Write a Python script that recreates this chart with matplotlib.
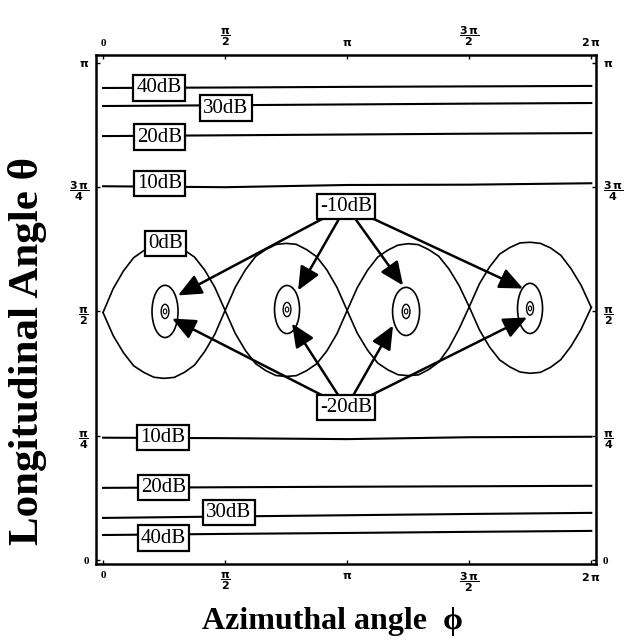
import numpy as np
import matplotlib
matplotlib.use('Agg')
import matplotlib.pyplot as plt
from matplotlib.patches import Ellipse

plt.rcParams['font.family'] = ['Liberation Serif', 'DejaVu Serif']
plt.rcParams['mathtext.fontset'] = 'custom'
plt.rcParams['mathtext.rm'] = 'DejaVu Sans:bold'
plt.rcParams['mathtext.it'] = 'DejaVu Sans:bold'
plt.rcParams['mathtext.bf'] = 'DejaVu Sans:bold'
plt.rcParams['mathtext.default'] = 'bf'

# 0 dB contour: upper and lower envelope sampled every pi/24 in phi
phi_0db = np.linspace(0, 2 * np.pi, 49)
theta_0db_upper = [1.564, 1.715, 1.826, 1.910, 1.955, 1.988, 1.995, 1.990, 1.958, 1.914, 1.832, 1.722, 1.577,
                   1.724, 1.834, 1.918, 1.962, 1.994, 2.001, 1.995, 1.962, 1.917, 1.834, 1.723, 1.577,
                   1.722, 1.831, 1.914, 1.958, 1.990, 1.999, 1.993, 1.962, 1.920, 1.840, 1.735, 1.600,
                   1.745, 1.852, 1.934, 1.975, 2.004, 2.008, 2.001, 1.972, 1.926, 1.842, 1.736, 1.596]
theta_0db_lower = [1.564, 1.418, 1.311, 1.228, 1.186, 1.155, 1.148, 1.154, 1.186, 1.232, 1.318, 1.428, 1.577,
                   1.432, 1.324, 1.241, 1.197, 1.166, 1.160, 1.165, 1.196, 1.240, 1.321, 1.430, 1.577,
                   1.433, 1.327, 1.245, 1.202, 1.171, 1.165, 1.170, 1.203, 1.250, 1.340, 1.460, 1.600,
                   1.455, 1.346, 1.264, 1.220, 1.188, 1.180, 1.186, 1.218, 1.266, 1.350, 1.458, 1.596]

# positive level contours, nearly flat in phi
phi_levels = [0, np.pi / 2, np.pi, 3 * np.pi / 2, 2 * np.pi]
db40_top = [2.983, 2.986, 2.990, 2.993, 2.996]
db30_top = [2.869, 2.874, 2.879, 2.884, 2.888]
db20_top = [2.679, 2.684, 2.689, 2.694, 2.698]
db10_top = [2.362, 2.356, 2.370, 2.372, 2.381]
db10_bot = [0.773, 0.770, 0.764, 0.776, 0.779]
db20_bot = [0.456, 0.460, 0.463, 0.466, 0.469]
db30_bot = [0.266, 0.275, 0.283, 0.291, 0.298]
db40_bot = [0.158, 0.165, 0.171, 0.178, 0.184]

# nulls: centres of the -10 dB / -20 dB contours
null_phi = [0.798, 2.368, 3.900, 5.495]
null_theta = [1.571, 1.583, 1.571, 1.590]
m10_width = [0.335, 0.322, 0.348, 0.322]
m10_height = [0.330, 0.304, 0.304, 0.317]
m20_width = [0.10, 0.10, 0.10, 0.09]
m20_height = [0.09, 0.09, 0.09, 0.085]

# arrow targets for the -10 dB and -20 dB labels
m10_tips = [(0.965, 1.672), (2.510, 1.704), (3.861, 1.735), (5.405, 1.716)]
m20_tips = [(0.888, 1.526), (2.432, 1.495), (3.732, 1.482), (5.457, 1.533)]

fig = plt.figure(figsize=(6.33, 6.43), dpi=100)
ax = fig.add_axes([0.1517, 0.1229, 0.790, 0.7916])

ax.plot(phi_0db, theta_0db_upper, color='black', lw=1.2)
ax.plot(phi_0db, theta_0db_lower, color='black', lw=1.2)

for th in [db40_top, db30_top, db20_top, db10_top, db10_bot, db20_bot, db30_bot, db40_bot]:
    ax.plot(phi_levels, th, color='black', lw=1.5)

for p, t, w, h, w2, h2 in zip(null_phi, null_theta, m10_width, m10_height, m20_width, m20_height):
    ax.add_patch(Ellipse((p, t), w, h, fill=False, color='black', lw=1.2))
    ax.add_patch(Ellipse((p, t), w2, h2, fill=False, color='black', lw=1.0))
    ax.add_patch(Ellipse((p, t), w2 * 0.45, h2 * 0.35, fill=False, color='black', lw=0.8))

box = dict(boxstyle='square,pad=0.15', fc='white', ec='black', lw=1.6)
labels = [('40dB', 0.72, 2.983), ('30dB', 1.58, 2.856), ('20dB', 0.73, 2.673),
          ('10dB', 0.73, 2.381), ('0dB', 0.81, 2.001),
          ('10dB', 0.77, 0.773), ('20dB', 0.78, 0.456), ('30dB', 1.62, 0.298),
          ('40dB', 0.78, 0.139)]
for txt, x, y in labels:
    ax.text(x, y, txt, fontsize=15, ha='center', va='center', bbox=box, zorder=5)

m10_pos = (3.13, 2.236)
m20_pos = (3.13, 0.963)
ax.text(*m10_pos, '-10dB', fontsize=15, ha='center', va='center', bbox=box, zorder=5)
ax.text(*m20_pos, '-20dB', fontsize=15, ha='center', va='center', bbox=box, zorder=5)
arrow = dict(arrowstyle='-|>,head_length=0.95,head_width=0.42', color='black', lw=1.8,
             shrinkA=0, shrinkB=0, mutation_scale=15)
for tip in m10_tips:
    ax.annotate('', xy=tip, xytext=m10_pos, arrowprops=arrow, zorder=3)
for tip in m20_tips:
    ax.annotate('', xy=tip, xytext=m20_pos, arrowprops=arrow, zorder=3)

ax.set_xlim(-0.09, 2 * np.pi + 0.062)
ax.set_ylim(-0.025, np.pi + 0.05)
ax.set_xticks([0, np.pi / 2, np.pi, 3 * np.pi / 2, 2 * np.pi])
ax.set_xticklabels(['0', r'$\dfrac{\pi}{2}$', r'$\pi$', r'$\dfrac{3\,\pi}{2}$', r'$2\,\pi$'])
ax.set_yticks([0, np.pi / 4, np.pi / 2, 3 * np.pi / 4, np.pi])
ax.set_yticklabels(['0', r'$\dfrac{\pi}{4}$', r'$\dfrac{\pi}{2}$', r'$\dfrac{3\,\pi}{4}$', r'$\pi$'])
ax.tick_params(direction='in', length=3, width=1, labelsize=8, pad=5,
               top=True, right=True, labeltop=True, labelright=True)
for lab in ax.get_xticklabels() + ax.get_yticklabels():
    lab.set_fontweight('bold')
for s in ax.spines.values():
    s.set_linewidth(1.8)

fig.text(0.526, 0.033, 'Azimuthal angle  \u03d5', fontsize=23, fontweight='bold',
         ha='center', va='center', family=['Liberation Serif', 'DejaVu Sans'])
fig.text(0.044, 0.454, 'Longitudinal Angle \u03b8', fontsize=31, fontweight='bold',
         ha='center', va='center', rotation=90, family=['Liberation Serif', 'DejaVu Sans'])

fig.savefig('out.png', dpi=100)
